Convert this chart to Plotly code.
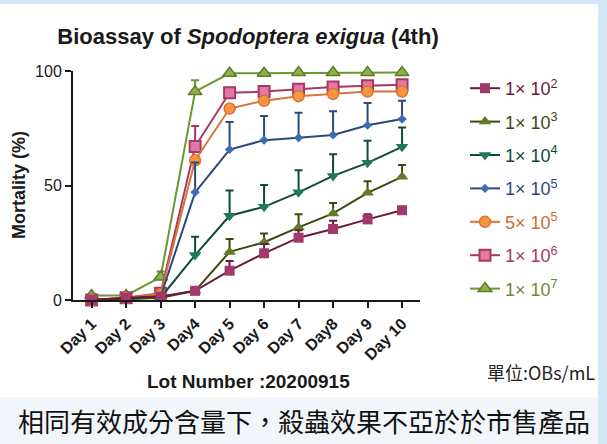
import plotly.graph_objects as go

days = ["Day 1", "Day 2", "Day 3", "Day4", "Day 5", "Day 6", "Day 7", "Day8", "Day 9", "Day 10"]

series_names = ["1× 10<sup>2</sup>", "1× 10<sup>3</sup>", "1× 10<sup>4</sup>", "1× 10<sup>5</sup>",
                "5× 10<sup>5</sup>", "1× 10<sup>6</sup>", "1× 10<sup>7</sup>"]

m_1e2 = [0, 1, 1.5, 4, 12.8, 20.4, 27.2, 31, 35.2, 39.2]
m_1e3 = [0, 0.5, 1, 4, 21, 25.2, 31.7, 37.8, 46.8, 53.8]
m_1e4 = [0, 0.5, 1, 19.6, 36.8, 40.7, 47, 54.2, 59.9, 66.9]
m_1e5 = [0, 0.5, 1.5, 47, 65.7, 69.8, 70.8, 72.1, 76.3, 79]
m_5e5 = [0, 1, 2.5, 61, 83.6, 87, 89, 90, 91, 91]
m_1e6 = [0, 1, 3, 67, 90.5, 91, 92, 93, 93.6, 94]
m_1e7 = [2, 2, 10, 91, 99, 99, 99.3, 99.3, 99.3, 99.3]

e_1e2 = [0, 0, 0, 0, 4.2, 4, 3.3, 3.6, 2.3, 1]
e_1e3 = [0, 0, 0, 0, 5.6, 3.8, 5.7, 4.6, 5.1, 5.1]
e_1e4 = [0, 0, 0, 8, 11, 9.5, 9.7, 9.5, 9.6, 8.4]
e_1e5 = [0, 0, 0, 13, 12, 10.6, 11, 10.3, 9.7, 8]
e_5e5 = [0, 0, 0, 0, 0, 0, 0, 0, 0, 0]
e_1e6 = [0, 0, 0, 9, 1, 1, 1, 1, 1, 1]
e_1e7 = [0, 0, 2.5, 5, 0, 0, 0, 0, 0, 0]

values = [m_1e2, m_1e3, m_1e4, m_1e5, m_5e5, m_1e6, m_1e7]
errors = [e_1e2, e_1e3, e_1e4, e_1e5, e_5e5, e_1e6, e_1e7]

line_colors = ["#6a1a3c", "#3a4a10", "#0f4a3a", "#2b4a7a", "#d9733a", "#a8385f", "#6b9634"]
fill_colors = ["#a3386a", "#617d25", "#1f7a5a", "#3d6cb0", "#f7963e", "#e07aa5", "#8fb04a"]
edge_colors = ["#a3386a", "#617d25", "#1f7a5a", "#3d6cb0", "#d9733a", "#a8385f", "#5a7f28"]
text_colors = ["#6a1a3c", "#3a4a10", "#0f4a3a", "#2b4a7a", "#d06a38", "#a8385f", "#6b8a34"]
symbols = ["square", "triangle-up", "triangle-down", "diamond", "circle", "square", "triangle-up"]
sizes = [10, 11, 11, 7, 11, 11, 12]
edge_widths = [0, 0, 0, 0, 1.5, 2, 1.5]

fig = go.Figure()

for i in reversed(range(len(values))):
    fig.add_trace(go.Scatter(
        x=days, y=values[i], mode="lines+markers",
        name=f"<span style='color:{text_colors[i]}'>{series_names[i]}</span>",
        legendgroup=f"g{i}", legendrank=i + 1,
        line=dict(color=line_colors[i], width=2),
        marker=dict(symbol=symbols[i], size=sizes[i], color=fill_colors[i],
                    line=dict(color=edge_colors[i], width=edge_widths[i])),
        error_y=dict(type="data", symmetric=False, array=errors[i],
                     arrayminus=[0] * len(errors[i]),
                     color=line_colors[i], thickness=2, width=4),
        cliponaxis=False,
    ))

def px_x(px):
    return (px - 73) / 347

def px_y(py):
    return (300 - py) / 229

shapes = [
    dict(type="rect", xref="paper", yref="paper", x0=px_x(-5), x1=px_x(612),
         y0=px_y(450), y1=px_y(-5), fillcolor="#f2f5f9", line=dict(width=0), layer="below"),
    dict(type="rect", xref="paper", yref="paper", x0=px_x(598), x1=px_x(612),
         y0=px_y(450), y1=px_y(-5), fillcolor="#d3e7f5", line=dict(width=0), layer="below"),
    dict(type="rect", xref="paper", yref="paper", x0=px_x(-5), x1=px_x(598),
         y0=px_y(4), y1=px_y(-5), fillcolor="#d3e7f5", line=dict(width=0), layer="below"),
    dict(type="rect", xref="paper", yref="paper", x0=px_x(-5), x1=px_x(598),
         y0=px_y(397), y1=px_y(4), fillcolor="#ffffff", line=dict(width=0), layer="below"),
]

annotations = [
    dict(text="<b>Lot Number :20200915</b>", xref="paper", yref="paper",
         x=px_x(248), y=px_y(381), xanchor="center", yanchor="middle", showarrow=False,
         font=dict(family="Liberation Sans, Arial", size=19, color="#1a1a1a")),
    dict(text="<b>Mortality (%)</b>", xref="paper", yref="paper",
         x=px_x(19), y=px_y(185), xanchor="center", yanchor="middle",
         showarrow=False, textangle=-90,
         font=dict(family="Liberation Sans, Arial", size=18, color="#1a1a1a")),
    dict(text="單位:OBs/mL", xref="paper", yref="paper",
         x=px_x(597), y=px_y(372), xanchor="right", yanchor="middle", showarrow=False,
         font=dict(family="Noto Sans CJK TC", size=18, color="#222222")),
    dict(text="相同有效成分含量下，殺蟲效果不亞於於市售產品", xref="paper", yref="paper",
         x=px_x(304), y=px_y(420), xanchor="center", yanchor="middle", showarrow=False,
         font=dict(family="Noto Sans CJK TC", size=26, color="#111111")),
]

fig.update_layout(
    width=607, height=444,
    margin=dict(l=73, r=187, t=71, b=144, autoexpand=False),
    paper_bgcolor="#ffffff", plot_bgcolor="rgba(0,0,0,0)",
    title=dict(text="<b>Bioassay of <i>Spodoptera exigua</i> (4th)</b>",
               x=px_x(248), xref="paper", xanchor="center",
               y=1 - 36 / 444, yref="container", yanchor="middle",
               font=dict(family="Liberation Sans, Arial", size=22, color="#1a1a1a")),
    xaxis=dict(type="category", range=[-0.54, 9.52], showgrid=False, zeroline=False,
               showline=True, linecolor="#1a1a1a", linewidth=2,
               ticks="outside", ticklen=6, tickwidth=2, tickcolor="#1a1a1a",
               tickangle=-45, tickprefix="<b>", ticksuffix="</b>",
               tickfont=dict(family="Liberation Sans, Arial", size=16, color="#1a1a1a")),
    yaxis=dict(range=[0, 100], tickvals=[0, 50, 100], showgrid=False, zeroline=False,
               showline=True, linecolor="#1a1a1a", linewidth=2,
               ticks="outside", ticklen=6, tickwidth=2, tickcolor="#1a1a1a",
               tickprefix="<b>", ticksuffix="</b>",
               tickfont=dict(family="Liberation Sans, Arial", size=16, color="#1a1a1a")),
    legend=dict(x=px_x(465), y=px_y(70), xanchor="left", yanchor="top",
                traceorder="grouped", tracegroupgap=7, maxheight=400,
                bgcolor="rgba(0,0,0,0)",
                font=dict(family="Liberation Sans, Arial", size=18)),
    shapes=shapes, annotations=annotations,
)

fig.write_html("out.html", config={"displayModeBar": False},
               post_script="document.body.style.margin='0';")
